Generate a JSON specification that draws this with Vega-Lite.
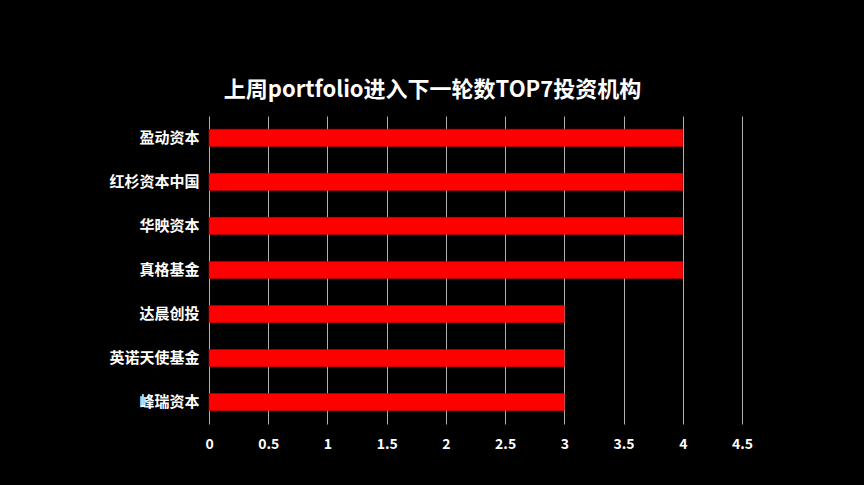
{
  "$schema": "https://vega.github.io/schema/vega-lite/v6.json",
  "width": 533,
  "height": 308,
  "autosize": {"type": "none"},
  "padding": {"left": 209, "top": 116, "right": 122, "bottom": 61},
  "background": "#000000",
  "title": {
    "text": "上周portfolio进入下一轮数TOP7投资机构",
    "color": "#ffffff",
    "font": "Noto Sans CJK SC",
    "fontSize": 22,
    "fontWeight": "bold",
    "anchor": "middle",
    "dx": -43,
    "offset": 14
  },
  "config": {
    "view": {"stroke": null},
    "axis": {"labelFont": "Noto Sans CJK SC", "labelColor": "#ffffff", "labelFontWeight": "bold"}
  },
  "data": {
    "values": [
      {"name": "盈动资本", "value": 4},
      {"name": "红杉资本中国", "value": 4},
      {"name": "华映资本", "value": 4},
      {"name": "真格基金", "value": 4},
      {"name": "达晨创投", "value": 3},
      {"name": "英诺天使基金", "value": 3},
      {"name": "峰瑞资本", "value": 3}
    ]
  },
  "mark": {"type": "bar", "color": "#ff0000", "stroke": "#d00000", "strokeWidth": 0.5},
  "encoding": {
    "y": {
      "field": "name",
      "type": "nominal",
      "sort": null,
      "scale": {"paddingInner": 0.61, "paddingOuter": 0.3},
      "axis": {"title": null, "domain": false, "ticks": false, "labelFontSize": 15, "labelPadding": 10}
    },
    "x": {
      "field": "value",
      "type": "quantitative",
      "scale": {"domain": [0, 4.5], "nice": false},
      "axis": {
        "title": null,
        "values": [0, 0.5, 1, 1.5, 2, 2.5, 3, 3.5, 4, 4.5],
        "format": "~g",
        "domain": false,
        "ticks": false,
        "grid": true,
        "gridColor": "#b0b0b0",
        "gridWidth": 1,
        "labelFontSize": 14,
        "labelPadding": 13,
        "labelFlush": false
      }
    }
  }
}
